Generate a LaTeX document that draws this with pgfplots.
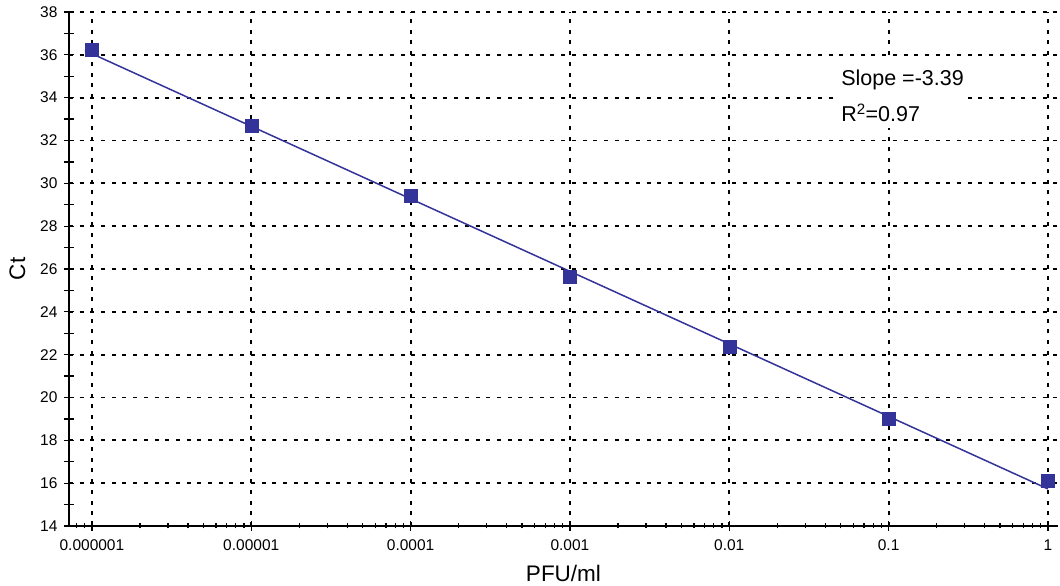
\documentclass[border=0pt]{standalone}
\usepackage{fontspec}
\setmainfont{Liberation Sans}
\usepackage{pgfplots}
\pgfplotsset{compat=1.18}
\definecolor{ptblue}{HTML}{333399}
\begin{document}
\begin{tikzpicture}
\begin{axis}[
  scale only axis,
  width=989pt, height=514pt,
  xmode=log,
  xmin=7.18e-7, xmax=1.156,
  ymin=14, ymax=38,
  axis x line=bottom, axis y line=left,
  axis line style={-, line width=1.5pt, black},
  xtick={1e-6,1e-5,1e-4,1e-3,1e-2,1e-1,1},
  xticklabels={0.000001,0.00001,0.0001,0.001,0.01,0.1,1},
  minor xtick={8e-7,9e-7,
    2e-6,3e-6,4e-6,5e-6,6e-6,7e-6,8e-6,9e-6,
    2e-5,3e-5,4e-5,5e-5,6e-5,7e-5,8e-5,9e-5,
    2e-4,3e-4,4e-4,5e-4,6e-4,7e-4,8e-4,9e-4,
    2e-3,3e-3,4e-3,5e-3,6e-3,7e-3,8e-3,9e-3,
    2e-2,3e-2,4e-2,5e-2,6e-2,7e-2,8e-2,9e-2,
    0.2,0.3,0.4,0.5,0.6,0.7,0.8,0.9},
  ytick={14,16,...,38},
  extra y ticks={15,17,...,37},
  extra y tick labels={},
  extra y tick style={grid=none},
  tick align=center,
  major tick length=10pt,
  minor tick length=5pt,
  every tick/.style={line width=1.3pt, black},
  /pgf/number format/assume math mode=true,
  ticklabel style={font=\fontsize{15.5}{17}\selectfont},
  yticklabel style={xshift=-3pt},
  xticklabel style={yshift=-5pt},
  xmajorgrids, ymajorgrids, xminorgrids=false,
  major grid style={black, line width=1.8pt, dash pattern=on 4pt off 6.7pt},
  xlabel={PFU/ml}, ylabel={Ct},
  label style={font=\fontsize{22.5}{25}\selectfont},
  xlabel style={yshift=-8pt},
  ylabel style={yshift=-2pt},
  clip=false,
]
\addplot[ptblue, line width=1.5pt] coordinates {(9.04e-7,36.2) (1,15.73)};
\addplot[only marks, mark=square*, mark size=6.5pt, color=ptblue] coordinates {
(1e-6,36.25) (1e-5,32.68) (1e-4,29.41) (1e-3,25.62) (1e-2,22.35) (1e-1,19.0) (1,16.1)};
\fill[white] (axis cs:0.0448,35.9) rectangle (axis cs:0.311,32.58);
\node[anchor=west, font=\fontsize{21.5}{24}\selectfont, inner sep=0pt] at (axis cs:0.0503,34.83) {Slope =-3.39};
\node[anchor=west, font=\fontsize{21.5}{24}\selectfont, inner sep=0pt] at (axis cs:0.0503,33.28) {R\textsuperscript{2}=0.97};
\end{axis}
\path ([shift={(-69pt,-58pt)}]current axis.south west) rectangle ([shift={(2pt,12pt)}]current axis.north east);
\end{tikzpicture}
\end{document}
